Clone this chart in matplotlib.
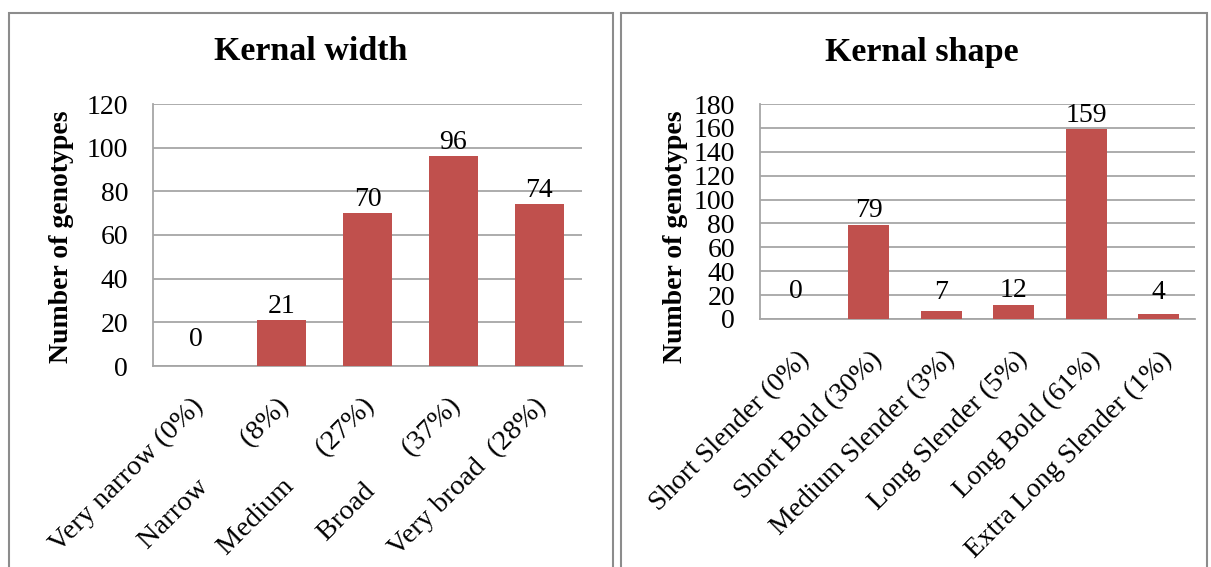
import matplotlib
matplotlib.use("Agg")
import matplotlib.pyplot as plt
import matplotlib.transforms as mtransforms
from matplotlib.patches import Rectangle

# data
width_cats = ["Very narrow (0%)", "Narrow        (8%)", "Medium      (27%)",
              "Broad       (37%)", "Very broad  (28%)"]
width_vals = [0, 21, 70, 96, 74]

shape_cats = ["Short Slender (0%)", "Short Bold (30%)", "Medium Slender (3%)",
              "Long Slender (5%)", "Long Bold (61%)", "Extra Long Slender (1%)"]
shape_vals = [0, 79, 7, 12, 159, 4]

BAR = "#C0504D"
GRID = "#A6A6A6"
FRAME = "#8C8C8C"
FS = 20

plt.rcParams['font.family'] = ['Liberation Serif', 'DejaVu Serif']

W, H = 1211, 567
fig = plt.figure(figsize=(W / 100, H / 100), dpi=100)


def px(x0, y0, x1, y1):
    # pixel box -> figure fraction [left, bottom, width, height]
    return [x0 / W, 1 - y1 / H, (x1 - x0) / W, (y1 - y0) / H]


def draw(ax, cats, vals, ymax, step, dx_label, xpad, xfs):
    x = list(range(len(cats)))
    ax.bar(x, vals, width=0.57, color=BAR, zorder=3)
    ax.set_xlim(-0.5, len(cats) - 0.5)
    ax.set_ylim(0, ymax)
    ax.set_yticks(range(0, ymax + 1, step))
    ax.grid(axis='y', color=GRID, linewidth=1.3, zorder=0)
    for s in ['top', 'right']:
        ax.spines[s].set_visible(False)
    for s in ['left', 'bottom']:
        ax.spines[s].set_color(GRID)
        ax.spines[s].set_linewidth(1.3)
    ax.tick_params(axis='both', length=0)
    ax.tick_params(axis='y', pad=18, labelsize=FS)
    ax.tick_params(axis='x', pad=xpad, labelsize=xfs)
    ax.set_xticks(x)
    ax.set_xticklabels(cats, rotation=45, ha='right', va='top',
                       rotation_mode='anchor')
    off = mtransforms.ScaledTranslation(dx_label / 100, 0, fig.dpi_scale_trans)
    for lab in ax.get_xticklabels():
        lab.set_transform(lab.get_transform() + off)
    # value labels
    bar_px = ax.transData.transform((0, 1))[1] - ax.transData.transform((0, 0))[1]
    for xi, v in zip(x, vals):
        off_px = max(14, 27 - v * bar_px)
        ax.annotate(str(v), (xi, v), xytext=(0, off_px * 0.72),
                    textcoords='offset points', ha='center', va='center',
                    fontsize=FS, zorder=4)


ax1 = fig.add_axes(px(153, 104, 582, 366))
draw(ax1, width_cats, width_vals, 120, 20, -5, 20, 20.5)

ax2 = fig.add_axes(px(760, 104, 1195, 319))
draw(ax2, shape_cats, shape_vals, 180, 20, 1, 20, 20)

fig.text(311 / W, 1 - 52 / H, "Kernal width", ha='center', va='center',
         fontsize=24.5, fontweight='bold')
fig.text(922 / W, 1 - 52 / H, "Kernal shape", ha='center', va='center',
         fontsize=24.5, fontweight='bold')
fig.text(62 / W, 1 - 237 / H, "Number of genotypes", rotation=90,
         ha='center', va='center', fontsize=20, fontweight='bold')
fig.text(675 / W, 1 - 237 / H, "Number of genotypes", rotation=90,
         ha='center', va='center', fontsize=20, fontweight='bold')

# panel frames
for x0, x1 in [(9, 613), (621, 1207)]:
    fig.add_artist(Rectangle((x0 / W, -0.05), (x1 - x0) / W, 1.05 - 13 / H,
                             transform=fig.transFigure, fill=False,
                             edgecolor=FRAME, linewidth=1.5))

fig.savefig("out.png", dpi=100)
